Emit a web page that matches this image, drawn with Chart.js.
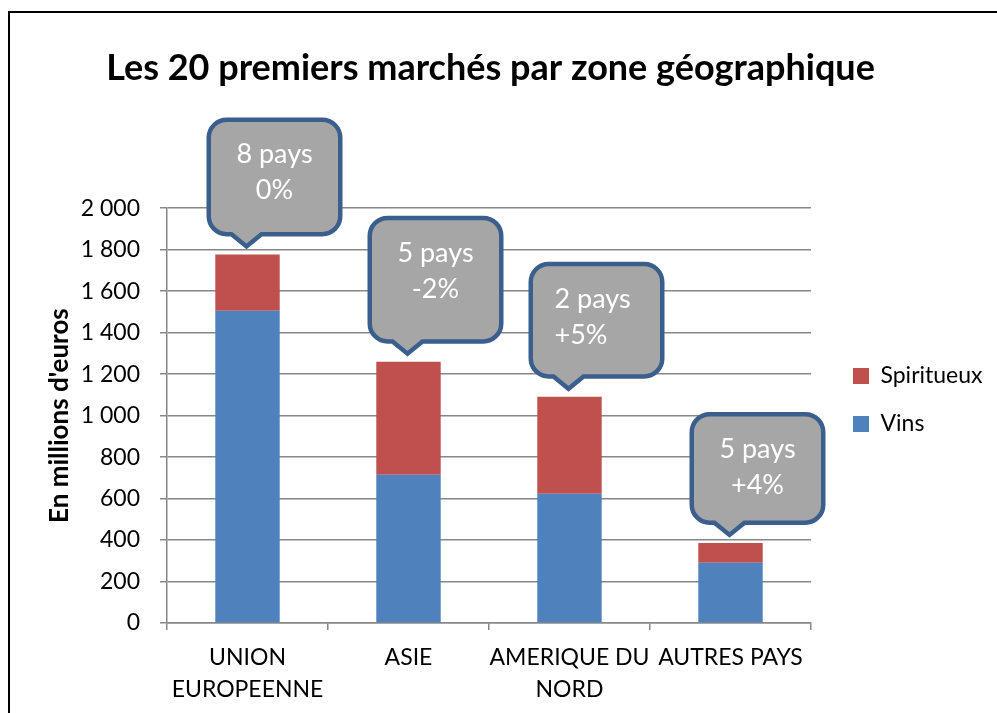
<!DOCTYPE html>
<html lang="fr">
<head>
<meta charset="utf-8">
<title>Les 20 premiers marchés par zone géographique</title>
<script src="https://cdn.jsdelivr.net/npm/chart.js@4.4.1/dist/chart.umd.min.js"></script>
<style>
  html, body { margin: 0; padding: 0; background: #fff; overflow: hidden; }
  #frame { position: absolute; left: 8px; top: 11px; width: 1000px; height: 800px;
           border-left: 2px solid #000; border-top: 2px solid #000; }
  #chart-box { position: absolute; left: -15px; top: 0; width: 1002px; height: 774px; }
</style>
</head>
<body>
<div id="frame">
  <div id="chart-box"><canvas id="chart"></canvas></div>
</div>
<script>
// data (millions d'euros)
const zones = [['UNION', 'EUROPEENNE'], 'ASIE', ['AMERIQUE DU', 'NORD'], 'AUTRES PAYS'];
const vins = [1505, 715, 623, 290];
const spiritueux = [272, 545, 468, 96];
const nbPays = ['8 pays', '5 pays', '2 pays', '5 pays'];
const evolution = ['0%', '-2%', '+5%', '+4%'];

// callout look
const bulleHeights = [119, 128, 117, 113];
const bulleAlign = ['center', 'center', 'left', 'center'];

const gridGrey = '#878787';

const formatFr = v => String(v).replace(/\B(?=(\d{3})+(?!\d))/g, ' ');

// speech bubbles above each stacked bar
const bulles = {
  id: 'bulles',
  afterDatasetsDraw(chart) {
    const ctx = chart.ctx;
    const bars = chart.getDatasetMeta(1).data;
    bars.forEach((bar, i) => {
      const tipX = bar.x - 1, tipY = bar.y - 5;
      const lw = 4.5, h = lw / 2, r = 18;
      const outerTop = tipY - 13 - bulleHeights[i];
      const left = tipX - 40 + h, right = tipX + 96 - h;
      const top = outerTop + h, bottom = tipY - 13 - h;

      ctx.save();
      ctx.beginPath();
      ctx.moveTo(left + r, top);
      ctx.lineTo(right - r, top);
      ctx.arcTo(right, top, right, top + r, r);
      ctx.lineTo(right, bottom - r);
      ctx.arcTo(right, bottom, right - r, bottom, r);
      ctx.lineTo(tipX + 15, bottom);
      ctx.lineTo(tipX, tipY - 3);
      ctx.lineTo(tipX - 15, bottom);
      ctx.lineTo(left + r, bottom);
      ctx.arcTo(left, bottom, left, bottom - r, r);
      ctx.lineTo(left, top + r);
      ctx.arcTo(left, top, left + r, top, r);
      ctx.closePath();
      ctx.fillStyle = '#a6a6a6';
      ctx.fill();
      ctx.lineWidth = lw;
      ctx.strokeStyle = '#3b5f8d';
      ctx.stroke();

      ctx.fillStyle = '#ffffff';
      ctx.font = '27px Lato';
      ctx.textBaseline = 'alphabetic';
      let x = tipX + 28;
      if (bulleAlign[i] == 'left') {
        ctx.textAlign = 'left';
        x = tipX - 14;
      } else {
        ctx.textAlign = 'center';
      }
      ctx.fillText(nbPays[i], x, outerTop + 46);
      ctx.fillText(evolution[i], x, outerTop + 82);
      ctx.restore();
    });
  }
};

Chart.defaults.font.family = 'Lato';
Chart.defaults.color = '#000';

new Chart(document.getElementById('chart'), {
  type: 'bar',
  data: {
    labels: zones,
    datasets: [
      { label: 'Vins', data: vins, backgroundColor: '#4f81bd' },
      { label: 'Spiritueux', data: spiritueux, backgroundColor: '#c0504d' }
    ]
  },
  options: {
    responsive: true,
    maintainAspectRatio: false,
    animation: false,
    layout: { padding: { left: 0, right: 11, top: 0, bottom: 0 } },
    datasets: { bar: { barPercentage: 0.4, categoryPercentage: 1 } },
    scales: {
      x: {
        stacked: true,
        grid: { display: true, drawOnChartArea: false, tickLength: 7, color: gridGrey, lineWidth: 1.5 },
        border: { color: gridGrey, width: 1.5 },
        ticks: { color: '#000', padding: 12, maxRotation: 0, autoSkip: false,
                 font: { size: 23, lineHeight: 32 / 23 } },
        afterFit: s => { s.height = 164 }
      },
      y: {
        stacked: true,
        min: 0,
        max: 2000,
        grid: { color: gridGrey, lineWidth: 1.5, tickLength: 7 },
        border: { color: gridGrey, width: 1.5 },
        ticks: { stepSize: 200, padding: 20, color: '#000', font: { size: 23 }, callback: v => formatFr(v) },
        title: { display: true, text: "En millions d'euros", color: '#000',
                 font: { size: 26, weight: 'bold' }, padding: { top: 49, bottom: 0 } },
        afterFit: s => { s.width = 172 }
      },
      // empty spacer between plot and legend
      yPad: {
        axis: 'y',
        type: 'linear',
        position: 'right',
        grid: { display: false },
        border: { display: false },
        ticks: { display: false },
        afterFit: s => { s.width = 17 }
      }
    },
    plugins: {
      title: {
        display: true,
        text: 'Les 20 premiers marchés par zone géographique',
        color: '#000',
        font: { size: 36, weight: 'bold' },
        padding: { top: 34, bottom: 118 }
      },
      legend: {
        position: 'right',
        reverse: true,
        maxWidth: 158,
        labels: { boxWidth: 16, boxHeight: 16, padding: 25, color: '#000', font: { size: 23 } }
      },
      tooltip: { enabled: false }
    }
  },
  plugins: [bulles]
});
</script>
</body>
</html>
